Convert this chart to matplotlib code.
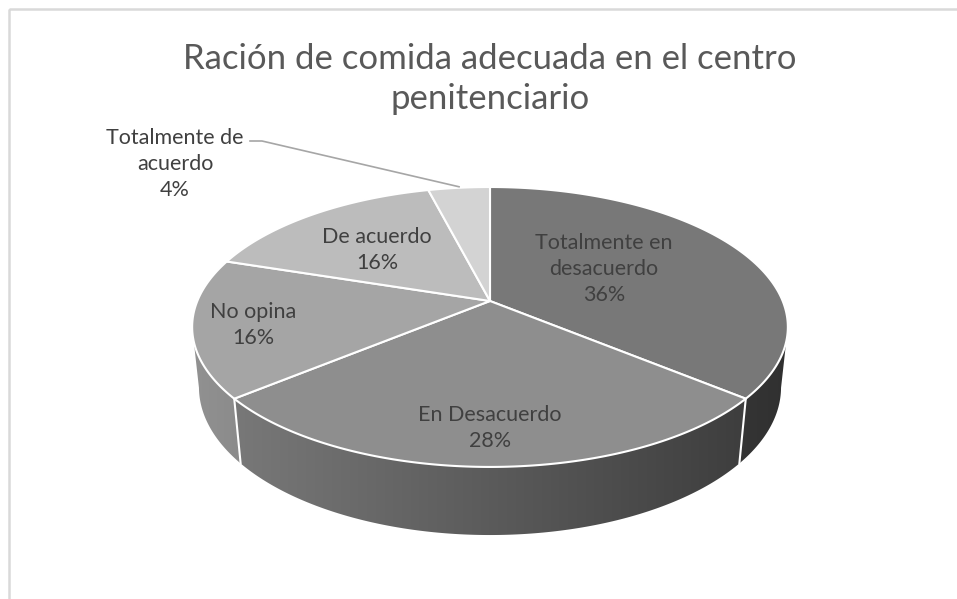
import numpy as np
import matplotlib
matplotlib.use("Agg")
import matplotlib.pyplot as plt
from matplotlib.patches import Polygon, Rectangle

# data
categories = ["Totalmente en\ndesacuerdo", "En Desacuerdo", "No opina", "De acuerdo", "Totalmente de\nacuerdo"]
percents = [36, 28, 16, 16, 4]
top_colors = ["#787878", "#8e8e8e", "#a5a5a5", "#bcbcbc", "#d3d3d3"]
title = "Ración de comida adecuada en el centro\npenitenciario"

# label spots (pixels)
label_xy = [(604, 269), (490, 428), (253, 325), (377, 250), (175, 164)]

# 3d view (perspective) settings, fitted by eye
CX, CY = 490, 301
PHI = np.radians(27.5)
DIST = 4.78
FOC = 1399.0
THICK = 0.234
cphi, sphi = np.cos(PHI), np.sin(PHI)
W, H = 957, 599


def proj(theta, r, y):
    x3 = r * np.sin(theta)
    z3 = r * np.cos(theta)
    v = y * cphi + z3 * sphi
    w = DIST + z3 * cphi - y * sphi
    return CX + FOC * x3 / w, CY - FOC * v / w


fig = plt.figure(figsize=(W / 100, H / 100), dpi=100)
ax = fig.add_axes([0, 0, 1, 1])

# chart frame
ax.add_patch(Rectangle((9, 9), 1000, 700, fill=False, edgecolor="#d9d9d9", lw=1.8))

fracs = np.array(percents) / sum(percents)
bounds = np.concatenate([[0], np.cumsum(fracs)]) * 2 * np.pi

# visible part of the side wall
t_sil = np.arccos(-cphi / DIST)
vis_lo, vis_hi = t_sil, 2 * np.pi - t_sil

# side walls: left-to-right darkening gradient clipped to each slice's wall
xs = np.arange(W)
fac = np.clip(0.88 - 0.48 * (xs - 192) / 596, 0.36, 0.9)
for i in range(len(percents)):
    a0, a1 = max(bounds[i], vis_lo), min(bounds[i + 1], vis_hi)
    if a1 <= a0:
        continue
    ts = np.linspace(a0, a1, 200)
    pts = [proj(t, 1, 0) for t in ts] + [proj(t, 1, -THICK) for t in ts[::-1]]
    wall = Polygon(pts, closed=True, facecolor="none", edgecolor="none")
    ax.add_patch(wall)
    rgb = np.array(matplotlib.colors.to_rgb(top_colors[i]))
    img = np.clip(fac[None, :, None] * rgb[None, None, :], 0, 1)
    im = ax.imshow(img, extent=[0, W, H, 0], aspect="auto", interpolation="bilinear", zorder=1)
    im.set_clip_path(wall)

# white seams on the side wall
for b in bounds:
    if vis_lo < b < vis_hi:
        xa, ya = proj(b, 1, 0)
        xb, yb = proj(b, 1, -THICK)
        ax.plot([xa, xb], [ya, yb], color="white", lw=1.5, zorder=2)

# top faces
for i in range(len(percents)):
    ts = np.linspace(bounds[i], bounds[i + 1], 200)
    pts = [proj(0, 0, 0)] + [proj(t, 1, 0) for t in ts]
    ax.add_patch(Polygon(pts, closed=True, facecolor=top_colors[i], edgecolor="white",
                         lw=1.5, joinstyle="round", zorder=3))

# labels
for i, (lx, ly) in enumerate(label_xy):
    ax.text(lx, ly, f"{categories[i]}\n{percents[i]}%", ha="center", va="center",
            fontsize=15.5, color="#404040", family="Lato", linespacing=1.4, zorder=5)

# leader line for the small slice
mid = (bounds[-2] + bounds[-1]) / 2
ex, ey = proj(mid, 1.0, 0)
ax.plot([250, 262, ex], [141, 141, ey - 1], color="#a6a6a6", lw=1.2, zorder=4)

ax.text(490, 79, title, ha="center", va="center", fontsize=25, color="#595959",
        family="Lato", linespacing=1.32, zorder=5)

ax.set_xlim(0, W)
ax.set_ylim(H, 0)
ax.axis("off")

fig.savefig("out.png", dpi=100)
